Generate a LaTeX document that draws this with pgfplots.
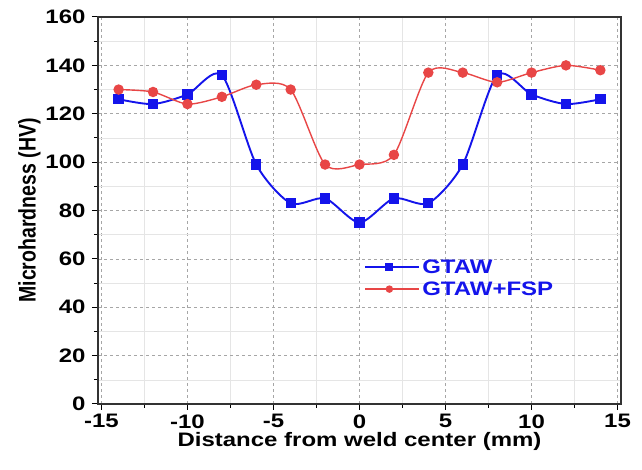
\documentclass[border=0pt]{standalone}
\usepackage{graphicx}
\usepackage{pgfplots}
\pgfplotsset{compat=1.18}
\usepackage{fontspec}
\setmainfont{Liberation Sans}
\definecolor{cblue}{RGB}{20,20,235}
\definecolor{cred}{RGB}{232,70,70}
\newcommand{\wide}[1]{\scalebox{1.23}[1]{#1}}
\newcommand{\tall}[1]{\scalebox{1}[1.23]{#1}}
\newcommand{\tickfont}{\fontsize{19.5}{22}\selectfont\bfseries}
\begin{document}
\begin{tikzpicture}
\begin{axis}[
  name=ax,
  scale only axis,
  width=523pt, height=387pt,
  xmin=-15.2, xmax=15.2, ymin=0, ymax=160,
  xtick={-15,-10,...,15}, ytick={0,20,...,160},
  minor x tick num=1, minor y tick num=1,
  tick align=outside, tick pos=left,
  major tick length=6pt, minor tick length=4pt,
  every tick/.style={black, line width=1pt},
  axis line style={line width=1.6pt, black!80},
  xmajorgrids, xminorgrids, yminorgrids, ymajorgrids,
  major grid style={gray!70, dashed, line width=0.6pt},
  minor grid style={gray!20, line width=0.6pt},
  xticklabel={\tickfont\wide{\pgfmathprintnumber{\tick}}},
  yticklabel={\tickfont\wide{\pgfmathprintnumber{\tick}}},
  yticklabel style={xshift=-3pt},
  xticklabel style={yshift=-1pt},
  xlabel style={font=\fontsize{19.5}{22}\selectfont\bfseries, yshift=3pt},
  ylabel style={font=\fontsize{19.5}{22}\selectfont\bfseries, yshift=-2pt},
  xlabel={\wide{Distance from weld center (mm)}},
  ylabel={\tall{Microhardness (HV)}},
  legend cell align=left,
  legend style={at={(axis cs:0.1,61.5)}, anchor=north west, draw=none, fill=none,
    font=\fontsize{19.5}{22}\selectfont\bfseries, text=cblue,
    row sep=3pt},
  legend image code/.code={
    \path (0pt,0pt) -- (54pt,0pt);
    \draw[mark repeat=2,mark phase=2,#1,mark size=3pt] plot coordinates {(0pt,0pt) (24pt,0pt) (48pt,0pt)};
  },
  /pgf/number format/assume math mode=true,
]
\addplot[cblue, line width=1.9pt, smooth, tension=0.45, mark=square*, mark size=4.2pt, mark options={solid}] coordinates {
(-14,126) (-12,124) (-10,128) (-8,136) (-6,99) (-4,83) (-2,85) (0,75) (2,85) (4,83) (6,99) (8,136) (10,128) (12,124) (14,126)};
\addlegendentry{\wide{GTAW}}
\addplot[cred, line width=1.4pt, smooth, tension=0.45, mark=*, mark size=4.5pt, mark options={solid}] coordinates {
(-14,130) (-12,129) (-10,124) (-8,127) (-6,132) (-4,130) (-2,99) (0,99) (2,103) (4,137) (6,137) (8,133) (10,137) (12,140) (14,138)};
\addlegendentry{\wide{GTAW+FSP}}
\end{axis}
\pgfresetboundingbox
\path[use as bounding box] ([xshift=-98pt,yshift=-66pt]ax.south west) rectangle ([xshift=21pt,yshift=17pt]ax.north east);
\end{tikzpicture}
\end{document}
